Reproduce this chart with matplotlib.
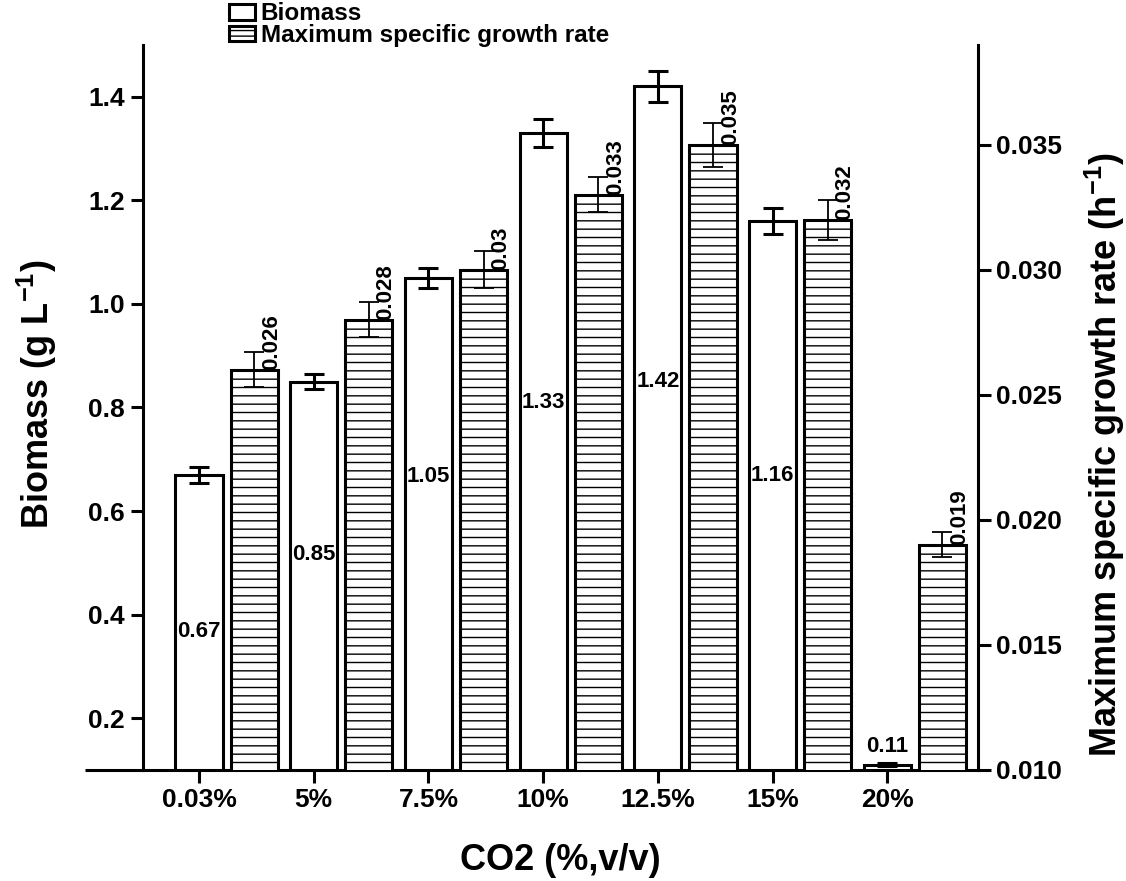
import matplotlib
matplotlib.use('Agg')
import matplotlib.pyplot as plt
import numpy as np
from matplotlib.patches import Patch

# ---------------- data ----------------
categories = ['0.03%', '5%', '7.5%', '10%', '12.5%', '15%', '20%']
biomass = [0.67, 0.85, 1.05, 1.33, 1.42, 1.16, 0.11]
biomass_err = [0.015, 0.015, 0.02, 0.027, 0.03, 0.025, 0.003]
growth_rate = [0.026, 0.028, 0.030, 0.033, 0.035, 0.032, 0.019]
growth_rate_err = [0.0007, 0.0007, 0.00074, 0.0007, 0.00088, 0.0008, 0.0005]
biomass_labels = ['0.67', '0.85', '1.05', '1.33', '1.42', '1.16', '0.11']
growth_labels = ['0.026', '0.028', '0.03', '0.033', '0.035', '0.032', '0.019']
left_ticks = [0.2, 0.4, 0.6, 0.8, 1.0, 1.2, 1.4]
right_ticks = [0.010, 0.015, 0.020, 0.025, 0.030, 0.035]

# ---------------- style ----------------
# relative height (fraction of bar value) at which each biomass label sits
label_frac = [0.548, 0.608, 0.635, 0.608, 0.599, 0.577, None]

plt.rcParams['font.family'] = ['Liberation Sans', 'DejaVu Sans']
plt.rcParams['font.weight'] = 'bold'
plt.rcParams['mathtext.fontset'] = 'custom'
plt.rcParams['mathtext.rm'] = 'Liberation Sans:bold'
plt.rcParams['mathtext.it'] = 'Liberation Sans:bold'
plt.rcParams['mathtext.bf'] = 'Liberation Sans:bold'
plt.rcParams['hatch.linewidth'] = 1.0
plt.rcParams['hatch.color'] = 'black'

LW = 2.2
TICK_FS = 19
LABEL_FS = 26
VAL_FS = 16

fig = plt.figure(figsize=(11.26, 8.81), dpi=100)
ax = fig.add_axes([0.127, 0.126, 0.7416, 0.823])
ax2 = ax.twinx()

x = np.arange(len(categories))
bw = 0.41
off = 0.48

# biomass bars (left axis)
ax.bar(x, biomass, width=bw, facecolor='white', edgecolor='black', linewidth=LW, zorder=2)
ax.errorbar(x, biomass, yerr=biomass_err, fmt='none', ecolor='black',
            elinewidth=LW, capsize=7.5, capthick=LW, zorder=3)

# growth-rate bars (right axis)
ax2.bar(x + off, growth_rate, width=bw, facecolor='white', edgecolor='black',
        linewidth=LW, hatch='--', zorder=2)
ax2.errorbar(x + off, growth_rate, yerr=growth_rate_err, fmt='none', ecolor='black',
             elinewidth=1.3, capsize=7.5, capthick=1.3, zorder=3)

# value labels
for xi, v, lab, fr in zip(x, biomass, biomass_labels, label_frac):
    if fr is None:
        ax.text(xi, v + 0.015, lab, ha='center', va='bottom', fontsize=VAL_FS, fontweight='bold', zorder=5)
    else:
        ax.text(xi, v * fr, lab, ha='center', va='center', fontsize=VAL_FS, fontweight='bold', zorder=5)
for xi, v, lab in zip(x, growth_rate, growth_labels):
    ax2.text(xi + 0.63, v, lab, rotation=90, ha='center', va='bottom',
             fontsize=VAL_FS, fontweight='bold', zorder=5)

# axes limits & ticks
ax.set_xlim(-0.488, 6.79)
ax.set_ylim(0.1, 1.5)
ax2.set_ylim(0.010, 0.039)
ax.set_xticks(x)
ax.set_xticklabels(categories)
ax.set_yticks(left_ticks)
ax.set_yticklabels([f'{t:.1f}' for t in left_ticks])
ax2.set_yticks(right_ticks)
ax2.set_yticklabels([f'{t:.3f}' for t in right_ticks])

for a in (ax, ax2):
    a.spines['top'].set_visible(False)
    for s in a.spines.values():
        s.set_linewidth(LW)
ax.spines['right'].set_visible(False)
ax2.spines['left'].set_visible(False)
ax2.spines['bottom'].set_visible(False)

ax.tick_params(axis='both', direction='out', length=9, width=LW, labelsize=TICK_FS, pad=4)
ax2.tick_params(axis='y', direction='out', length=9, width=LW, labelsize=TICK_FS, pad=4)
for lab in ax.get_xticklabels() + ax.get_yticklabels() + ax2.get_yticklabels():
    lab.set_fontweight('bold')

# bottom axis extends a bit left of the left spine
ax.plot([-0.07, 0], [0, 0], transform=ax.transAxes, color='black', lw=LW,
        clip_on=False, solid_capstyle='butt')

# axis labels
ax.set_xlabel('CO2 (%,v/v)', fontsize=LABEL_FS, fontweight='bold')
ax.xaxis.set_label_coords(0.5, -0.100)
ax.set_ylabel(r'Biomass (g L$^{-1}$)', fontsize=LABEL_FS, fontweight='bold')
ax.yaxis.set_label_coords(-0.100, 0.518)
ax2.set_ylabel(r'Maximum specific growth rate (h$^{-1}$)', fontsize=LABEL_FS, fontweight='bold')
ax2.yaxis.set_label_coords(1.126, 0.435)

# legend
handles = [Patch(facecolor='white', edgecolor='black', linewidth=LW),
           Patch(facecolor='white', edgecolor='black', linewidth=LW, hatch='---')]
fig.legend(handles, ['Biomass', 'Maximum specific growth rate'], loc='upper left',
           bbox_to_anchor=(0.184, 1.022), frameon=False,
           handlelength=1.05, handleheight=0.6, handletextpad=0.25, labelspacing=-0.05,
           prop={'weight': 'bold', 'size': 17.5})

fig.savefig('out.png', dpi=100)
